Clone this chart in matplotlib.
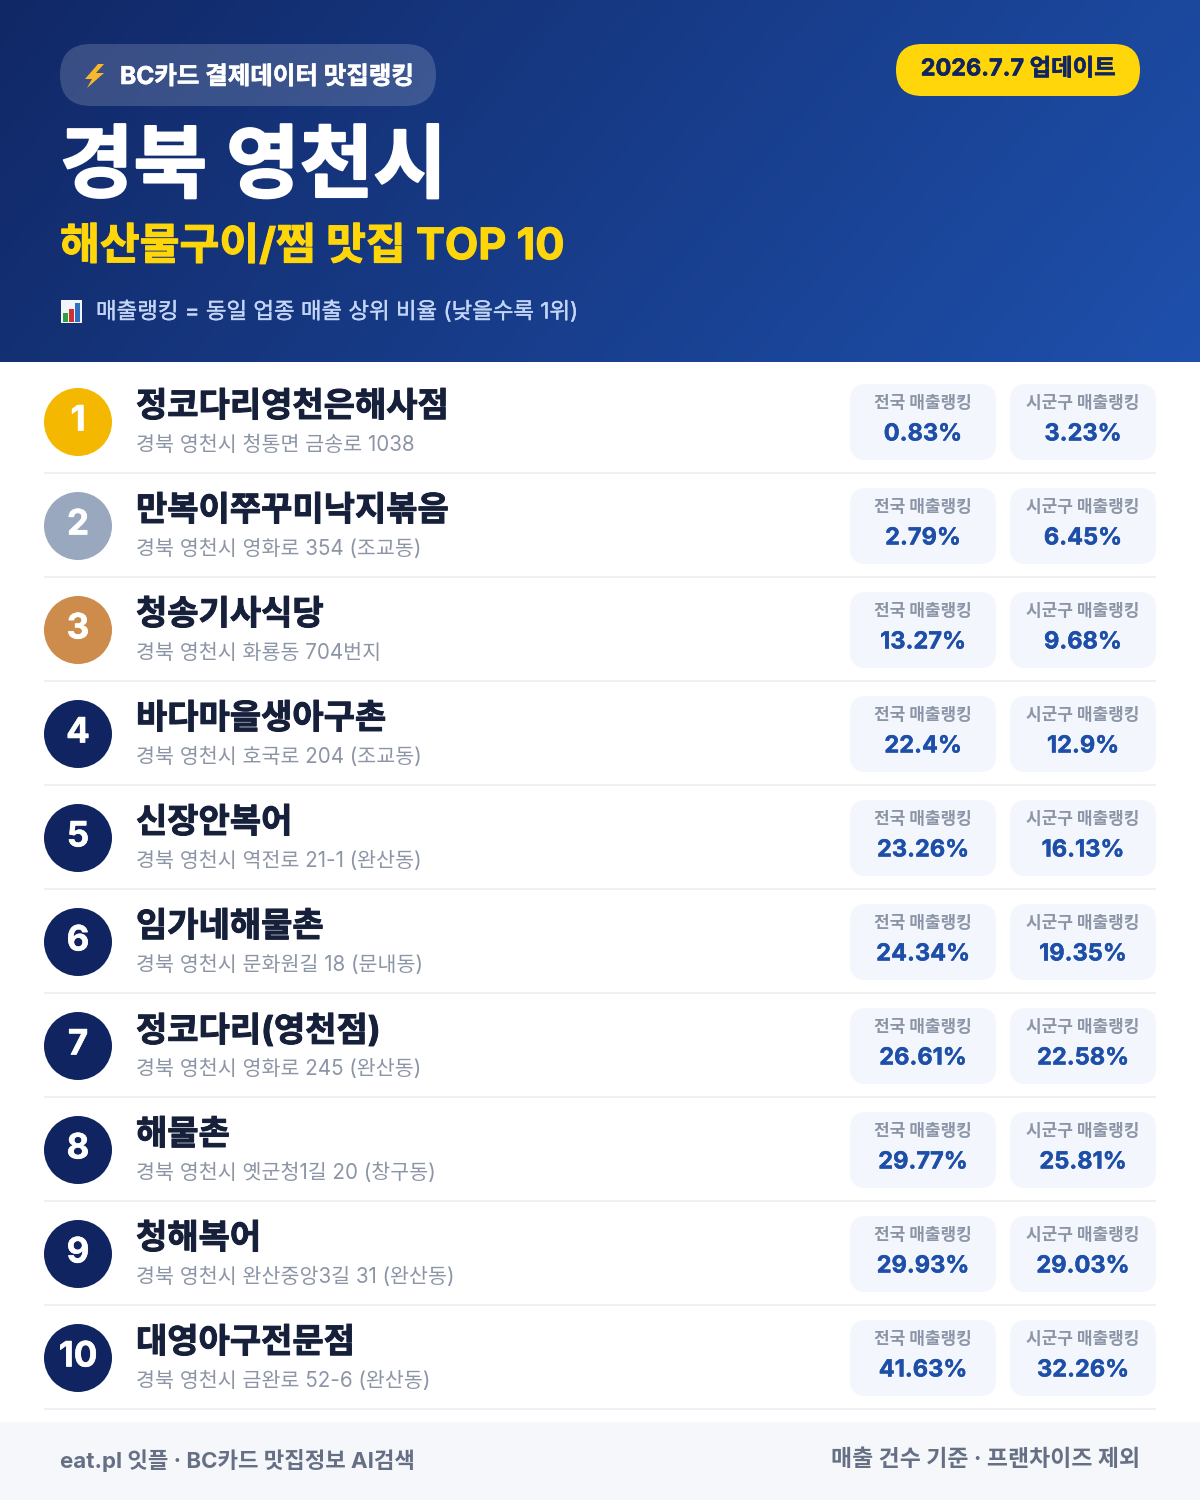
import numpy as np
import matplotlib
matplotlib.use("Agg")
import matplotlib.pyplot as plt
import matplotlib.patheffects as pe
from matplotlib.patches import FancyBboxPatch, Circle, Rectangle, Polygon

FONT = ['Inter', 'Noto Sans CJK KR', 'DejaVu Sans']
plt.rcParams['font.family'] = FONT

# ---- data ----
badge_text = "BC카드 결제데이터 맛집랭킹"
update_text = "2026.7.7 업데이트"
title_text = "경북 영천시"
subtitle_text = "해산물구이/찜 맛집 TOP 10"
note_text = "매출랭킹 = 동일 업종 매출 상위 비율 (낮을수록 1위)"
footer_left = "eat.pl 잇플 · BC카드 맛집정보 AI검색"
footer_right = "매출 건수 기준 · 프랜차이즈 제외"
label_national = "전국 매출랭킹"
label_local = "시군구 매출랭킹"
names = ["정코다리영천은해사점", "만복이쭈꾸미낙지볶음", "청송기사식당", "바다마을생아구촌", "신장안복어",
         "임가네해물촌", "정코다리(영천점)", "해물촌", "청해복어", "대영아구전문점"]
addresses = ["경북 영천시 청통면 금송로 1038", "경북 영천시 영화로 354 (조교동)", "경북 영천시 화룡동 704번지",
             "경북 영천시 호국로 204 (조교동)", "경북 영천시 역전로 21-1 (완산동)", "경북 영천시 문화원길 18 (문내동)",
             "경북 영천시 영화로 245 (완산동)", "경북 영천시 옛군청1길 20 (창구동)", "경북 영천시 완산중앙3길 31 (완산동)",
             "경북 영천시 금완로 52-6 (완산동)"]
national = ["0.83%", "2.79%", "13.27%", "22.4%", "23.26%", "24.34%", "26.61%", "29.77%", "29.93%", "41.63%"]
local = ["3.23%", "6.45%", "9.68%", "12.9%", "16.13%", "19.35%", "22.58%", "25.81%", "29.03%", "32.26%"]
rank_colors = ["#F5B800", "#9AA8BF", "#CD8C4B"] + ["#0F2460"] * 7

PX = 72 / 100  # px -> pt at 100 dpi

fig = plt.figure(figsize=(12, 15), dpi=100, facecolor="white")
ax = fig.add_axes([0, 0, 1, 1])
ax.set_xlim(0, 1200)
ax.set_ylim(1500, 0)
ax.axis("off")

def rrect(x0, y0, x1, y1, r, **kw):
    p = FancyBboxPatch((x0 + r, y0 + r), x1 - x0 - 2 * r, y1 - y0 - 2 * r,
                       boxstyle=f"round,pad={r},rounding_size={r}", linewidth=0, **kw)
    ax.add_patch(p)
    return p

def txt(x, y, s, px, color, weight="normal", ha="left", stroke=0):
    t = ax.text(x, y, s, fontsize=px * PX, color=color, fontweight=weight, ha=ha,
                va="center_baseline", family=FONT, zorder=5)
    if stroke:
        t.set_path_effects([pe.withStroke(linewidth=stroke, foreground=color)])
    return t

# header gradient
W, H = 300, 90
yy, xx = np.mgrid[0:H, 0:W]
t = (xx / (W - 1) * 1200 * 0.77 + yy / (H - 1) * 362 * 0.64)
t = t / t.max()
c0 = np.array([0x11, 0x28, 0x66]) / 255
c1 = np.array([0x1E, 0x50, 0xAC]) / 255
img = c0[None, None, :] + (c1 - c0)[None, None, :] * t[..., None]
ax.imshow(img, extent=(0, 1200, 362, 0), aspect="auto", zorder=0, interpolation="bilinear")
ax.set_xlim(0, 1200)
ax.set_ylim(1500, 0)

# badge
rrect(60, 44, 436, 106, 31, facecolor="#FFFFFF", alpha=0.17, zorder=1)
ax.add_patch(Polygon([(98, 64), (85, 79), (92, 79), (87, 88), (104, 73), (96, 73), (104, 64)],
                     closed=True, facecolor="#F6B92B", edgecolor="none", zorder=2))
txt(120, 75, badge_text, 24.5, "white", "bold", stroke=0.4)

# update pill
rrect(896, 44, 1140, 96, 26, facecolor="#FFD60A", zorder=1)
txt(1018, 67, update_text, 23.4, "#0F2460", "bold", ha="center", stroke=0.4)

txt(60, 162, title_text, 80, "white", "bold", stroke=1.5)
txt(60, 243, subtitle_text, 43.3, "#FFD60A", "bold", stroke=0.8)

# note icon
ax.add_patch(Rectangle((61, 300), 21, 23, facecolor="#F2F4F8", edgecolor="none", zorder=2))
ax.add_patch(Rectangle((63, 313), 5, 9, facecolor="#2EA043", edgecolor="none", zorder=3))
ax.add_patch(Rectangle((69, 309), 5, 13, facecolor="#D0312D", edgecolor="none", zorder=3))
ax.add_patch(Rectangle((75, 303), 5, 19, facecolor="#2F6FC0", edgecolor="none", zorder=3))
txt(96, 310, note_text, 22.4, "#C4D6F6", stroke=0.25)

# rows
step = 104
for i, (nm, ad, na, lo, col) in enumerate(zip(names, addresses, national, local, rank_colors)):
    dy = step * i
    ax.add_patch(Circle((78, 422 + dy), 34, facecolor=col, edgecolor="none", zorder=2))
    txt(78, 418 + dy, str(i + 1), 35, "white", "bold", ha="center", stroke=0.4)
    txt(136, 404 + dy, nm, 34, "#16203A", "bold", stroke=0.7)
    txt(136, 443 + dy, ad, 20.6, "#8C95A6")
    for x0, x1, lab, val in ((850, 996, label_national, na), (1010, 1156, label_local, lo)):
        cx = (x0 + x1) / 2
        rrect(x0, 384 + dy, x1, 460 + dy, 16, facecolor="#F3F6FD", zorder=1)
        txt(cx, 401 + dy, lab, 17, "#8C95A6", "bold", ha="center")
        txt(cx, 432 + dy, val, 23.6, "#1E4FA8", "bold", ha="center", stroke=0.3)
    ax.add_patch(Rectangle((44, 472 + dy), 1112, 2, facecolor="#EEF0F3", edgecolor="none", zorder=1))

# footer
ax.add_patch(Rectangle((0, 1422), 1200, 78, facecolor="#F5F7FB", edgecolor="none", zorder=1))
txt(60, 1458, footer_left, 22.3, "#667085", "bold")
txt(1140, 1458, footer_right, 22.9, "#667085", "bold", ha="right")

fig.savefig("out.png", dpi=100, facecolor="white")
